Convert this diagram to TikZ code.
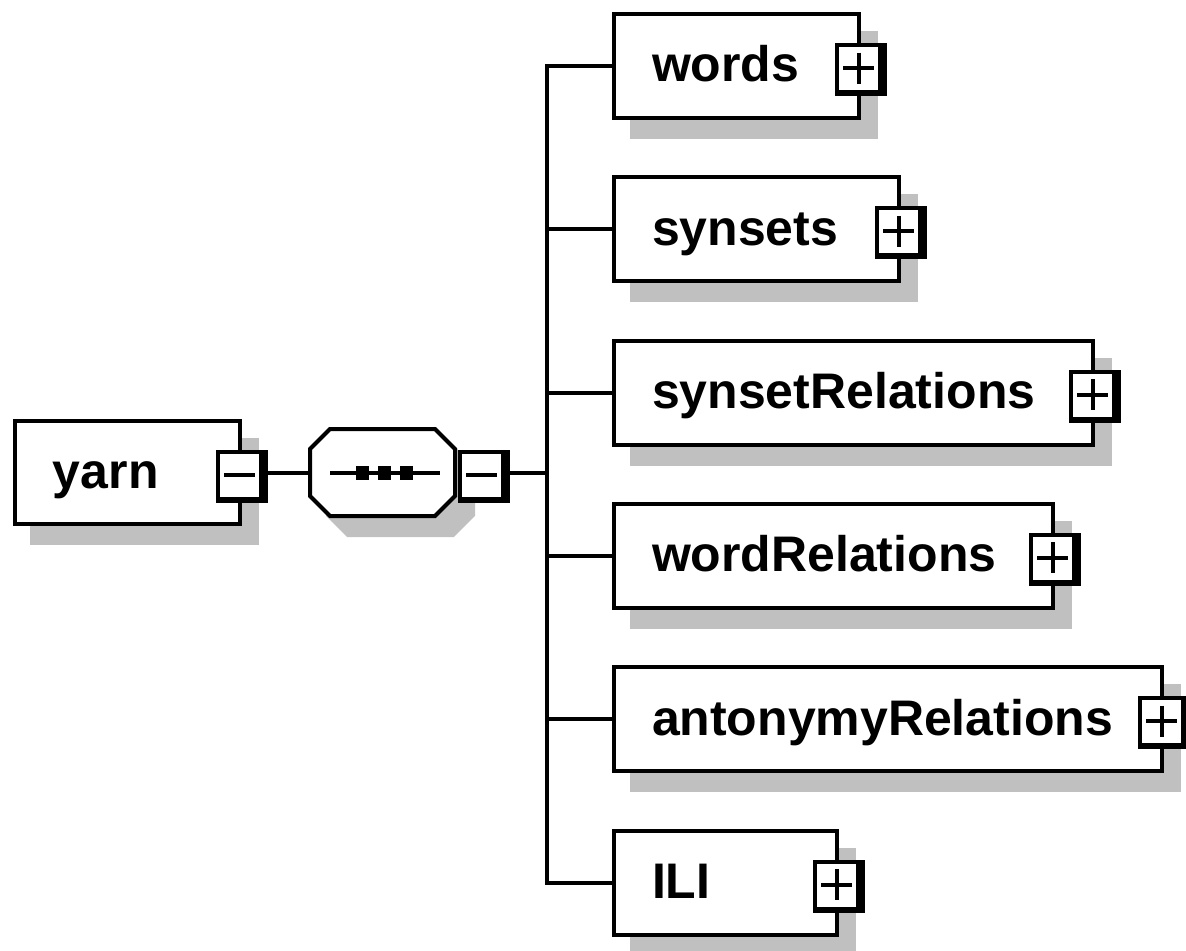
\documentclass[tikz,border=0pt]{standalone}
\usepackage{fontspec}
\setmainfont{Liberation Sans}
\usetikzlibrary{calc,shadows}
\definecolor{shade}{HTML}{C0C0C0}
\def\seqoutline[#1](#2){\draw[#1] ($(#2)+(-52.5,-43.5)$) -- ++(105,0) -- ++(20,20) -- ++(0,47) -- ++(-20,20) -- ++(-105,0) -- ++(-20,-20) -- ++(0,-47) -- cycle;}
\def\toggle(#1)(#2)#3{%
	\node[togbox] (#1) at ($(#2)+(2,3.5)$) {};
	\fill[white] ($(#1.north west)+(4,4)$) rectangle ($(#1.south east)+(-9,-6)$);
	\draw[sign] ($(#1.center)+(-17.5,-1.5)$) -- ($(#1.center)+(13.5,-1.5)$);
	\ifx#3+\draw[sign] ($(#1.center)+(-2,-17)$) -- ($(#1.center)+(-2,14)$);\fi
}

\begin{document}
\begin{tikzpicture}[x=0.02cm, y=-0.02cm,
		wire/.style={line width=0.08cm},
		sign/.style={line width=0.08cm},
		elem/.style={draw, fill=white, line width=0.08cm, minimum height=2.08cm, inner sep=0, outer sep=0, anchor=west,
			drop shadow={shadow xshift=0.35cm, shadow yshift=-0.38cm, fill=shade, draw=shade, opacity=1}},
		togbox/.style={fill=black, minimum width=1.04cm, minimum height=1.06cm, inner sep=0, outer sep=0},
		seqbox/.style={minimum width=2.9cm, minimum height=1.74cm, inner sep=0, outer sep=0},
		tag/.style={anchor=base west, inner sep=0, outer sep=0, font=\bfseries\fontsize{28.45}{34}\selectfont}]
	%%%%% START %%%%%
	\useasboundingbox (0,0) rectangle (1186,950);
	
	% root element
	\node[elem, minimum width=4.5cm] (yarn) at (15,472.5) {};
	\node[tag] (yarnlabel) at ([xshift=0.76cm, yshift=-0.32cm]yarn.west) {yarn};
	\toggle(yarntog)(yarn.east)-
	
	% sequence compositor
	\seqoutline[fill=shade, draw=shade, line width=0.08cm](400.5,491.5)
	\seqoutline[fill=white, line width=0.08cm](382.5,472.5)
	\node[seqbox] (seq) at (382.5,472.5) {};
	\draw[wire] ($(seq.center)+(-52.5,0)$) -- ($(seq.center)+(57.5,0)$);
	\foreach \dx in {-20.5,1.5,23.5}
		\fill ($(seq.center)+(\dx-6.5,-7)$) rectangle ++(13,14);
	\coordinate (seqedge) at ($(seq.east)+(27,0)$);
	\toggle(seqtog)(seqedge)-
	
	% child elements
	\node[elem, minimum width=4.9cm] (words) at (614,66) {};
	\node[tag] (wordslabel) at ([xshift=0.76cm, yshift=-0.32cm]words.west) {words};
	\toggle(wordstog)(words.east)+
	
	\node[elem, minimum width=5.7cm] (synsets) at (614,229.3) {};
	\node[tag] (synsetslabel) at ([xshift=0.76cm, yshift=-0.32cm]synsets.west) {synsets};
	\toggle(synsetstog)(synsets.east)+
	
	\node[elem, minimum width=9.58cm] (synsetRelations) at (614,392.6) {};
	\node[tag] (synsetRelationslabel) at ([xshift=0.76cm, yshift=-0.32cm]synsetRelations.west) {synsetRelations};
	\toggle(synsetRelationstog)(synsetRelations.east)+
	
	\node[elem, minimum width=8.78cm] (wordRelations) at (614,555.9) {};
	\node[tag] (wordRelationslabel) at ([xshift=0.76cm, yshift=-0.32cm]wordRelations.west) {wordRelations};
	\toggle(wordRelationstog)(wordRelations.east)+
	
	\node[elem, minimum width=10.96cm] (antonymyRelations) at (614,719.2) {};
	\node[tag] (antonymyRelationslabel) at ([xshift=0.76cm, yshift=-0.32cm]antonymyRelations.west) {antonymyRelations};
	\toggle(antonymyRelationstog)(antonymyRelations.east)+
	
	\node[elem, minimum width=4.46cm] (ILI) at (614,882.5) {};
	\node[tag] (ILIlabel) at ([xshift=0.76cm, yshift=-0.32cm]ILI.west) {ILI};
	\toggle(ILItog)(ILI.east)+
	
	% connectors
	\coordinate (bus) at (547,472.5);
	\draw[wire] (yarntog.east |- yarn.east) -- (seq.west);
	\draw[wire] (seqtog.east |- seq.east) -- (bus);
	\draw[wire] (words.west) -| (bus |- ILI.west) -- (ILI.west);
	\foreach \n in {synsets,synsetRelations,wordRelations,antonymyRelations}
		\draw[wire] (bus |- \n.west) -- (\n.west);
	
	%%%%% END %%%%%
\end{tikzpicture}
\end{document}
